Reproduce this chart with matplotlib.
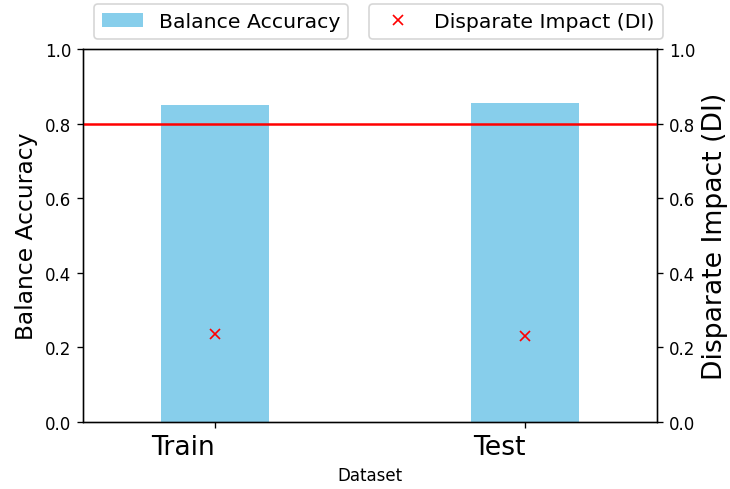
import matplotlib
matplotlib.use("Agg")
import numpy as np
import matplotlib.pyplot as plt

# data
datasets = ["Train", "Test"]
balance_accuracy = [0.850, 0.855]
disparate_impact = [0.236, 0.231]
di_threshold = 0.8

x = np.arange(len(datasets))

fig, ax1 = plt.subplots(figsize=(730 / 120, 490 / 120), dpi=120)
fig.subplots_adjust(left=83 / 730, right=657 / 730, top=1 - 50 / 490, bottom=1 - 423 / 490)

ax1.bar(x, balance_accuracy, width=0.35, color="skyblue", label="Balance Accuracy")
ax1.set_ylim(0, 1)
ax1.set_xlim(-0.425, 1.425)
ax1.set_xticks(x)
ax1.set_xticklabels(datasets, fontsize=16, ha="right")
ax1.set_xlabel("Dataset")
ax1.set_ylabel("Balance Accuracy", fontsize=14)

ax2 = ax1.twinx()
ax2.plot(x, disparate_impact, "x", color="red", markersize=6.5, label="Disparate Impact (DI)")
ax2.axhline(di_threshold, color="red", linewidth=1.5)
ax2.set_ylim(0, 1)
ax2.set_ylabel("Disparate Impact (DI)", fontsize=16)

ax1.legend(loc="center", bbox_to_anchor=(0.2404, 1.0737), fontsize=12.2)
ax2.legend(loc="center", bbox_to_anchor=(0.7544, 1.0737), fontsize=12.2)

plt.savefig("out.png", dpi=120)
